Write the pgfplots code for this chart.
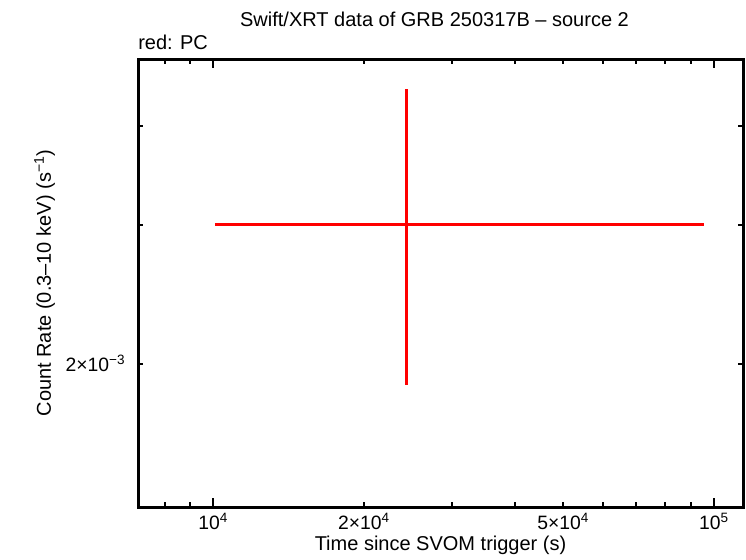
\documentclass[border=0pt]{standalone}
\usepackage{pgfplots}
\pgfplotsset{compat=1.18}
\usepackage{fontspec}
\setmainfont{Liberation Sans}
\usetikzlibrary{calc}
\begin{document}
\begin{tikzpicture}
\begin{axis}[name=ax,
  scale only axis, width=453.75pt, height=336pt,
  xmode=log, ymode=log,
  xmin=7080, xmax=1.143e5, ymin=1.315e-3, ymax=4.87e-3,
  axis line style={line width=2.25pt},
  tick style={black, line width=1.5pt},
  major tick length=4pt, minor tick length=4pt,
  tick align=inside,
  xtick={1e4,2e4,5e4,1e5},
  xticklabels={10\textsuperscript{4},2×10\textsuperscript{4},5×10\textsuperscript{4},10\textsuperscript{5}},
  extra x ticks={1e4,1e5},
  extra x tick labels={},
  extra x tick style={/pgfplots/major tick length=6.5pt},
  minor xtick={8000,9000,3e4,4e4,6e4,7e4,8e4,9e4},
  ytick={2e-3},
  yticklabels={2×10\textsuperscript{−3}},
  minor ytick={3e-3,4e-3},
  tick label style={font=\fontsize{14.5}{17}\selectfont},
  xticklabel style={yshift=-1pt},
  yticklabel style={xshift=-6pt},
  xlabel={Time since SVOM trigger (s)},
  ylabel={Count Rate (0.3–10 keV) (s\textsuperscript{−1})},
  every axis x label/.style={at={(rel axis cs:0.5,0)}, anchor=center, yshift=-29pt, font=\fontsize{15}{18}\selectfont},
  every axis y label/.style={at={(rel axis cs:0,0.5)}, anchor=center, xshift=-70pt, rotate=90, font=\fontsize{15}{18}\selectfont},
  clip=false,
]
\addplot[red, draw=none, mark=none,
  error bars/.cd, x dir=both, y dir=both, x explicit, y explicit,
  error mark=none, error bar style={red, line width=2.25pt}]
  coordinates {(24380,3.0e-3) += (71120,1.46e-3) -= (14290,1.12e-3)};
\end{axis}
\node[font=\fontsize{15}{18}\selectfont, anchor=base] at ($(ax.north)+(-4.5pt,24pt)$) {Swift/XRT data of GRB 250317B – source 2};
\node[font=\fontsize{15}{18}\selectfont, anchor=base west, inner sep=0pt] at ($(ax.north west)+(0pt,7pt)$) {red: PC};
\path[use as bounding box] ($(ax.south west)+(-103.5pt,-38.25pt)$) rectangle ($(ax.north east)+(2.25pt,44.25pt)$);
\end{tikzpicture}
\end{document}
